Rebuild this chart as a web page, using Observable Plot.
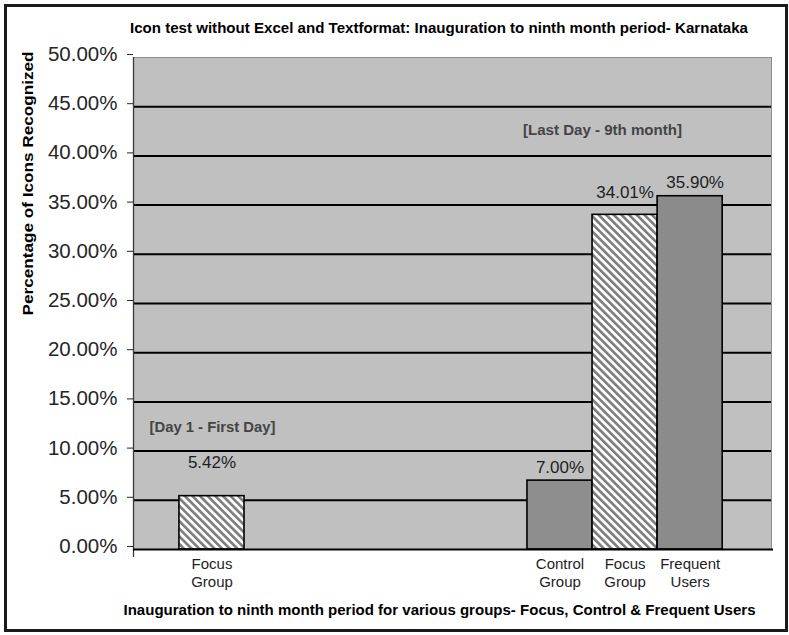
<!DOCTYPE html>
<html>
<head>
<meta charset="utf-8">
<script src="https://cdn.jsdelivr.net/npm/d3@7"></script>
<script src="https://cdn.jsdelivr.net/npm/@observablehq/plot@0.6"></script>
<style>
  body { margin: 0; background: #fff; }
  #chart { position: relative; width: 789px; height: 635px; }
  #chart svg { position: absolute; left: 0; top: 0; }
  #border { position: absolute; left: 4px; top: 4px; width: 778px; height: 622px; border: 3px solid #1a1a1a; }
</style>
</head>
<body>
<div id="chart"><div id="border"></div></div>
<script>
// Periods of the study and the bars shown for each
const periods = ["Day 1 - First Day", "Last Day - 9th month"];
const barPeriod = [0, 1, 1, 1];
const groupKinds = ["Focus", "Control", "Focus", "Frequent"];
const groupLabels = ["Focus\nGroup", "Control\nGroup", "Focus\nGroup", "Frequent\nUsers"];
// Percentage of icons recognized
const recognized = [5.42, 7.00, 34.01, 35.90];
// Y-axis ticks (percent)
const yTicks = [0, 5, 10, 15, 20, 25, 30, 35, 40, 45, 50];

const chartTitle = "Icon test without Excel and Textformat: Inauguration to ninth month period- Karnataka";
const xTitle = "Inauguration to ninth month period for various groups- Focus, Control & Frequent Users";
const yTitle = "Percentage of Icons Recognized";

// Clustered-column layout in category units (each period spans one unit)
const clusterStart = [0.144, 0.235];
const barSpan = 0.204;
const labelLift = [34, 13, 22, 14];
const labelShift = [0, 0, 0, 5];

const bars = recognized.map((v, i) => {
  const p = barPeriod[i];
  const slot = barPeriod.slice(0, i).filter(q => q === p).length;
  const x1 = p + clusterStart[p] + slot * barSpan;
  return {period: periods[p], kind: groupKinds[i], label: groupLabels[i],
          value: v / 100, x1, x2: x1 + barSpan, xc: x1 + barSpan / 2};
});

const pct = d3.format(".2%");

const plot = Plot.plot({
  width: 789,
  height: 635,
  marginLeft: 133,
  marginRight: 18,
  marginTop: 57,
  marginBottom: 86,
  style: {fontFamily: "Liberation Sans, Arial, sans-serif", background: "transparent", overflow: "visible"},
  x: {domain: [0, periods.length], axis: null},
  y: {domain: [0, 0.5], axis: null},
  color: {domain: ["Focus", "Control", "Frequent"], range: ["url(#hatch)", "#8e8e8e", "#8b8b8b"]},
  marks: [
    Plot.frame({fill: "#c0c0c0", stroke: "#8f8f8f", strokeWidth: 1}),
    Plot.ruleY(yTicks.filter(t => t > 0 && t < 50).map(t => t / 100), {stroke: "#000", strokeWidth: 2}),
    Plot.ruleX([0], {stroke: "#3a3a3a", strokeWidth: 1.3, insetBottom: -8}),
    Plot.axisY(yTicks.map(t => t / 100), {
      tickFormat: pct, tickSize: 6, tickPadding: 10, fontSize: 20.5,
      color: "#262626", label: null, dy: -3
    }),
    Plot.rectY(bars, {x1: "x1", x2: "x2", y1: 0, y2: "value", fill: "kind", stroke: "#000", strokeWidth: 1.6}),
    Plot.ruleY([0], {stroke: "#000", strokeWidth: 2, insetRight: -2}),
    ...bars.map((d, i) => Plot.text([d], {
      x: "xc", y: "value", text: b => pct(b.value), fontSize: 17, fill: "#1e1e1e",
      dy: -labelLift[i], dx: labelShift[i]
    })),
    Plot.text(bars, {x: "xc", y: 0, text: "label", lineAnchor: "top", lineHeight: 1.22,
      dy: 6, fontSize: 15, fill: "#1e1e1e"}),
    Plot.text([`[${periods[0]}]`], {frameAnchor: "top-left", textAnchor: "middle", lineAnchor: "middle",
      dx: 79, dy: 370, fontSize: 14, fontWeight: "bold", fill: "#444", className: "ann1"}),
    Plot.text([`[${periods[1]}]`], {frameAnchor: "top-left", textAnchor: "middle", lineAnchor: "middle",
      dx: 469, dy: 73, fontSize: 14, fontWeight: "bold", fill: "#444", className: "ann2"}),
    Plot.text([chartTitle], {frameAnchor: "top", lineAnchor: "middle", dx: -13.5, dy: -29, fontSize: 15,
      fontWeight: "bold", fill: "#000", className: "ctitle"}),
    Plot.text([xTitle], {frameAnchor: "bottom", lineAnchor: "middle", dx: -13, dy: 61, fontSize: 15,
      fontWeight: "bold", fill: "#000", className: "xtitle"}),
    Plot.text([yTitle], {frameAnchor: "left", dx: -105.5, dy: 12, rotate: -90, fontSize: 15,
      fontWeight: "bold", fill: "#000", className: "ytitle"})
  ]
});

// Diagonal hatching for the Focus Group columns
const svg = d3.select(plot);
const pat = svg.insert("defs", ":first-child").append("pattern")
  .attr("id", "hatch").attr("patternUnits", "userSpaceOnUse")
  .attr("width", 5.4).attr("height", 5.4).attr("patternTransform", "rotate(-45)");
pat.append("rect").attr("width", 5.4).attr("height", 5.4).attr("fill", "#fff");
pat.append("rect").attr("width", 2.6).attr("height", 5.4).attr("fill", "#7c7c7c");

// Condensed bold headings fitted to their lengths
const fit = [["ctitle", 618], ["xtitle", 632], ["ytitle", 264], ["ann1", 126], ["ann2", 159]];
for (const [cls, len] of fit) {
  svg.selectAll(`.${cls} text`).attr("textLength", len).attr("lengthAdjust", "spacingAndGlyphs");
}

document.getElementById("chart").appendChild(plot);
</script>
</body>
</html>
